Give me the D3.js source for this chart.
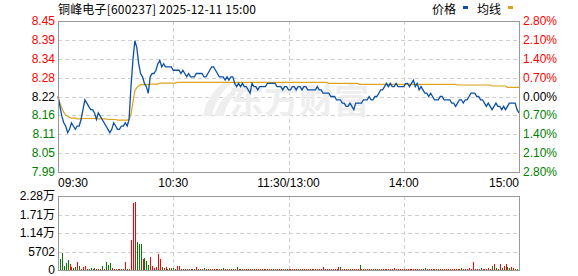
<!DOCTYPE html>
<html>
<head>
<meta charset="utf-8">
<script src="https://cdn.jsdelivr.net/npm/d3@7"></script>
<style>
	body { margin: 0; background: #fff; }
	text { font-family: "Liberation Sans", Arial, "Noto Sans CJK SC", sans-serif; font-size: 12px; }
</style>
</head>
<body>
<div id="chart-area"></div>
<script>
// Data
const title = "铜峰电子[600237] 2025-12-11 15:00"
const prevClose = 8.22

const timeLabels = ["09:30", "10:30", "11:30/13:00", "14:00", "15:00"]
const timeIndex = [0, 60, 120, 180, 240]

const priceTicks = ["8.45", "8.39", "8.34", "8.28", "8.22", "8.16", "8.11", "8.05", "7.99"]
const pctTicks = ["2.80%", "2.10%", "1.40%", "0.70%", "0.00%", "0.70%", "1.40%", "2.10%", "2.80%"]
const volTicks = ["2.28万", "1.71万", "1.14万", "5702", "0"]
const volMax = 22808

// one value per minute, 09:30 .. 15:00 (241 points)
const price = [
	8.22,8.19,8.16,8.14,8.13,8.11,8.12,8.14,8.13,8.12,8.13,8.13,8.15,8.18,8.21,8.20,8.19,8.18,8.18,8.17,
	8.15,8.17,8.16,8.15,8.14,8.13,8.12,8.11,8.12,8.14,8.13,8.12,8.12,8.13,8.13,8.14,8.13,8.15,8.25,8.33,
	8.39,8.37,8.32,8.29,8.28,8.26,8.25,8.23,8.28,8.29,8.29,8.30,8.32,8.33,8.31,8.32,8.31,8.31,8.31,8.31,
	8.30,8.30,8.30,8.30,8.29,8.30,8.29,8.28,8.29,8.28,8.28,8.28,8.29,8.29,8.29,8.29,8.28,8.28,8.29,8.30,
	8.31,8.31,8.30,8.29,8.28,8.28,8.28,8.27,8.28,8.27,8.28,8.28,8.26,8.25,8.26,8.25,8.26,8.25,8.25,8.24,
	8.23,8.26,8.25,8.25,8.24,8.25,8.25,8.25,8.25,8.26,8.26,8.26,8.26,8.26,8.25,8.25,8.25,8.24,8.25,8.25,
	8.24,8.24,8.25,8.25,8.24,8.25,8.25,8.24,8.25,8.25,8.24,8.24,8.24,8.24,8.24,8.25,8.24,8.24,8.23,8.23,
	8.23,8.23,8.22,8.22,8.22,8.21,8.21,8.21,8.20,8.20,8.19,8.19,8.20,8.19,8.18,8.20,8.20,8.20,8.20,8.21,
	8.21,8.21,8.22,8.21,8.21,8.22,8.22,8.23,8.24,8.24,8.25,8.26,8.25,8.26,8.25,8.25,8.26,8.25,8.25,8.25,
	8.25,8.26,8.26,8.25,8.26,8.27,8.25,8.26,8.24,8.25,8.24,8.23,8.23,8.22,8.23,8.22,8.21,8.21,8.21,8.22,
	8.22,8.21,8.21,8.21,8.21,8.20,8.20,8.19,8.20,8.21,8.21,8.20,8.21,8.21,8.22,8.23,8.23,8.23,8.22,8.22,
	8.21,8.21,8.20,8.19,8.20,8.19,8.18,8.19,8.20,8.19,8.19,8.18,8.19,8.18,8.19,8.20,8.20,8.20,8.20,8.18,
	8.17
]

const avgPrice = [
	8.220,8.200,8.184,8.172,8.163,8.160,8.156,8.154,8.154,8.154,8.152,8.152,8.152,8.153,8.153,8.153,8.153,8.153,8.153,8.153,
	8.153,8.152,8.152,8.152,8.152,8.152,8.150,8.150,8.150,8.150,8.150,8.148,8.148,8.148,8.148,8.148,8.148,8.150,8.166,8.202,
	8.237,8.247,8.252,8.256,8.256,8.256,8.256,8.256,8.258,8.258,8.258,8.258,8.258,8.261,8.261,8.261,8.261,8.261,8.261,8.261,
	8.261,8.261,8.263,8.263,8.263,8.263,8.263,8.263,8.263,8.263,8.263,8.263,8.263,8.263,8.263,8.263,8.263,8.263,8.263,8.263,
	8.263,8.263,8.263,8.263,8.263,8.263,8.263,8.263,8.263,8.263,8.263,8.263,8.263,8.263,8.263,8.263,8.263,8.263,8.263,8.263,
	8.263,8.263,8.263,8.263,8.263,8.263,8.263,8.263,8.263,8.263,8.263,8.263,8.263,8.263,8.263,8.263,8.263,8.263,8.263,8.263,
	8.263,8.263,8.263,8.263,8.263,8.263,8.263,8.263,8.263,8.263,8.263,8.263,8.263,8.263,8.263,8.263,8.263,8.263,8.263,8.263,
	8.263,8.260,8.260,8.260,8.260,8.260,8.260,8.260,8.260,8.260,8.260,8.260,8.260,8.260,8.260,8.260,8.260,8.257,8.257,8.257,
	8.257,8.257,8.257,8.257,8.257,8.257,8.257,8.257,8.257,8.257,8.257,8.257,8.257,8.257,8.257,8.257,8.257,8.257,8.257,8.257,
	8.257,8.257,8.257,8.257,8.257,8.257,8.257,8.257,8.257,8.257,8.257,8.257,8.257,8.257,8.257,8.257,8.257,8.257,8.257,8.257,
	8.257,8.257,8.257,8.257,8.257,8.257,8.257,8.257,8.255,8.255,8.255,8.255,8.255,8.255,8.255,8.255,8.255,8.255,8.255,8.255,
	8.255,8.255,8.255,8.255,8.255,8.255,8.252,8.252,8.252,8.252,8.252,8.252,8.252,8.252,8.248,8.248,8.248,8.248,8.248,8.248,
	8.248
]

const volume = [
	1500,3490,5340,1230,2260,3080,1750,1030,720,1030,2570,1230,410,1030,1230,410,200,720,200,620,
	300,300,300,1230,300,2460,1640,2260,620,300,300,300,300,300,300,2460,300,300,9240,20540,
	20950,8630,8110,8110,3490,3800,2770,1440,4110,1230,500,1030,4930,3490,1030,600,1030,400,620,620,
	620,400,1230,1230,300,400,300,300,300,300,300,300,1000,300,300,300,700,300,300,300,
	300,300,300,300,300,300,500,300,300,300,300,300,300,1000,300,300,300,300,300,300,
	300,300,300,300,300,300,300,300,300,300,300,300,300,300,300,300,300,300,300,300,
	300,300,300,300,300,300,300,300,300,300,300,300,300,300,300,300,300,300,1030,300,
	300,300,300,300,300,300,1030,1030,300,300,300,300,300,300,300,300,300,1540,300,300,
	300,300,300,300,300,300,300,300,300,300,300,300,300,300,300,700,300,300,300,300,
	300,300,300,300,300,300,300,300,300,300,300,700,300,300,300,300,300,300,300,300,
	300,300,300,300,300,300,300,300,300,300,700,300,300,300,700,300,2570,300,300,300,
	700,300,300,300,700,300,1335,1950,700,300,1950,700,1335,1950,1030,700,1030,500,300,300,
	2570
]

// r = red bar, g = green bar
const volSide = (
	"ggggggrrggrgrrrgrgrg" + "rgrgrgggrrgrrgrrggrr" + "rgggrgggrrrrrrgrrggr" +
	"ggrrrgrrgrrgrrgrgrrg" + "rrgrrrgrrgrrrgrrgrrr" + "rrgrrrrgrrrrgrrrrrgr" +
	"rrrrrgrrrrrrgrrrrrrr" + "rrrrrrrgrrrrgrrrrgrr" + "rrrrrrgrrrrrrrrrrrrr" +
	"rrrrrrrrrrrgrrrrrgrr" + "rrrrrrrrrrgrrrrrrrrr" + "grrrrrgrgrrgrrggrrrg" + "g"
).split("")

// Colours
const RED = "#ff0000", GREEN = "#008000", BLUE = "#0d4fa6", GOLD = "#dea21c"

// Canvas
const width = 578, height = 276
const plot = { left: 58, right: 519, top: 21, bottom: 172 }
const vplot = { left: 58, right: 519, top: 196, bottom: 270 }

const svg = d3.select("#chart-area")
	.append("svg")
	.attr("width", width)
	.attr("height", height)

svg.append("rect").attr("width", width).attr("height", height).attr("fill", "#fff")

// Scales
const x = d3.scaleLinear().domain([0, 240]).range([plot.left, plot.right])
const y = d3.scaleLinear().domain([7.99, 8.45]).range([plot.bottom, plot.top])
const yv = d3.scaleLinear().domain([0, volMax]).range([vplot.bottom, vplot.top])
const tickVal = (i) => 8.45 - i * (8.45 - 7.99) / 8
const labelColor = (i) => i < 4 ? RED : (i === 4 ? "#000" : GREEN)

// Title and legend
svg.append("text")
	.attr("x", 58).attr("y", 8.5)
	.attr("dominant-baseline", "central")
	.attr("textLength", 198).attr("lengthAdjust", "spacing")
	.style("font-family", "'Noto Sans CJK SC', sans-serif")
	.text(title)

const legend = [{ name: "价格", x: 432, c: BLUE }, { name: "均线", x: 477, c: GOLD }]
legend.forEach((d) => {
	svg.append("text").attr("x", d.x).attr("y", 8.5)
		.attr("dominant-baseline", "central")
		.style("font-family", "'Noto Sans CJK SC', sans-serif")
		.text(d.name)
	svg.append("rect").attr("x", d.x + 31).attr("y", 6).attr("width", 5).attr("height", 3).attr("fill", d.c)
})

// Grid lines
const grid = svg.append("g")
	.attr("stroke", "#cfcfcf")
	.attr("stroke-dasharray", "4,3")
	.attr("shape-rendering", "crispEdges")

grid.selectAll(".hgrid").data(d3.range(1, 8)).enter().append("line")
	.attr("x1", plot.left).attr("x2", plot.right)
	.attr("y1", (i) => Math.round(y(tickVal(i))) + 0.5)
	.attr("y2", (i) => Math.round(y(tickVal(i))) + 0.5)

grid.selectAll(".vhgrid").data(d3.range(1, 4)).enter().append("line")
	.attr("x1", vplot.left).attr("x2", vplot.right)
	.attr("y1", (i) => Math.round(yv(volMax - i * volMax / 4)) + 0.5)
	.attr("y2", (i) => Math.round(yv(volMax - i * volMax / 4)) + 0.5)

timeIndex.slice(1, 4).forEach((t) => {
	const xx = Math.round(x(t)) + 0.5
	grid.append("line").attr("x1", xx).attr("x2", xx).attr("y1", plot.top).attr("y2", plot.bottom)
	grid.append("line").attr("x1", xx).attr("x2", xx).attr("y1", vplot.top).attr("y2", vplot.bottom)
})

// Watermark
const wm = svg.append("g").attr("fill", "#eeeeee")
wm.append("path")
	.attr("d", "M203,116 C206,100 214,88 228,80 L231,84 C221,92 214,104 212,116 Z M214,116 C218,104 224,96 234,90 L236,94 C229,100 225,108 224,116 Z")
wm.append("text")
	.attr("x", 229).attr("y", 113)
	.attr("textLength", 140).attr("lengthAdjust", "spacingAndGlyphs")
	.style("font-family", "'Noto Sans CJK SC', sans-serif")
	.style("font-size", "34px")
	.style("font-weight", "bold")
	.text("东方财富")

// Lines
const line = d3.line()
	.x((d, i) => x(i))
	.y((d) => y(d))

svg.append("path")
	.attr("fill", "none")
	.attr("stroke", GOLD)
	.attr("stroke-width", 1.2)
	.attr("d", line(avgPrice))

svg.append("path")
	.attr("fill", "none")
	.attr("stroke", BLUE)
	.attr("stroke-width", 1.3)
	.attr("d", line(price))

// Volume bars
svg.append("g").selectAll("rect").data(volume).enter().append("rect")
	.attr("x", (d, i) => Math.round(x(i)))
	.attr("y", (d) => Math.round(yv(d)))
	.attr("width", 1)
	.attr("height", (d) => vplot.bottom - Math.round(yv(d)))
	.attr("fill", (d, i) => volSide[i] === "r" ? RED : GREEN)
	.attr("shape-rendering", "crispEdges")

// Frames
const frame = (p) => svg.append("rect")
	.attr("x", p.left + 0.5).attr("y", p.top + 0.5)
	.attr("width", p.right - p.left).attr("height", p.bottom - p.top)
	.attr("fill", "none").attr("stroke", "#999")
	.attr("shape-rendering", "crispEdges")
frame(plot)
frame(vplot)

// Axis labels
svg.selectAll(".plabel").data(priceTicks).enter().append("text")
	.attr("x", 55).attr("y", (d, i) => y(tickVal(i)))
	.attr("text-anchor", "end").attr("dominant-baseline", "central")
	.attr("fill", (d, i) => labelColor(i))
	.text((d) => d)

svg.selectAll(".pctlabel").data(pctTicks).enter().append("text")
	.attr("x", 523).attr("y", (d, i) => y(tickVal(i)))
	.attr("dominant-baseline", "central")
	.attr("fill", (d, i) => labelColor(i))
	.text((d) => d)

svg.selectAll(".vlabel").data(volTicks).enter().append("text")
	.attr("x", 55).attr("y", (d, i) => yv(volMax - i * volMax / 4))
	.attr("text-anchor", "end").attr("dominant-baseline", "central")
	.text((d) => d)

svg.selectAll(".tlabel").data(timeLabels).enter().append("text")
	.attr("x", (d, i) => x(timeIndex[i]))
	.attr("y", 183)
	.attr("dominant-baseline", "central")
	.attr("text-anchor", (d, i) => i === 0 ? "start" : (i === 4 ? "end" : "middle"))
	.text((d) => d)
</script>
</body>
</html>
